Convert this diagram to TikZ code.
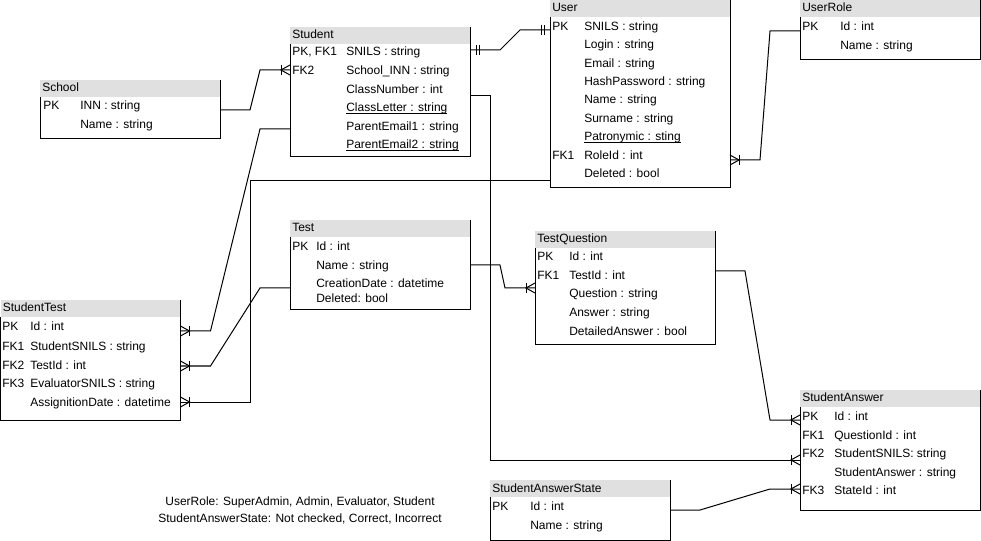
\documentclass[tikz,border=0pt]{standalone}
\usepackage{fontspec}
\setmainfont{Liberation Sans}
\usetikzlibrary{calc}

\definecolor{headgray}{RGB}{224,224,224}

\tikzset{
  fieldtxt/.style={anchor=base west,inner sep=0pt,font=\fontsize{9}{11}\selectfont},
  tablebox/.style={draw=none,inner sep=0pt,outer sep=0pt,anchor=north west,minimum width=135pt},
  border/.style={draw=black,line width=0.75pt},
  conn/.style={draw=black,line width=0.75pt},
  % crow's foot with bar: one or many
  pics/manyend/.style={code={
    \draw[conn] (0,-5) -- (9,0) -- (0,5);
    \draw[conn] (9,-5) -- (9,5);}},
  % double bar: exactly one
  pics/oneend/.style={code={
    \draw[conn] (6,-5) -- (6,5);
    \draw[conn] (9,-5) -- (9,5);}},
}

% column positions of the current table
\newcommand\ercolkey{}
\newcommand\ercolattr{}
\newcommand\setcols[2]{\def\ercolkey{#1}\def\ercolattr{#2}}

% table frame: name, left, top, height, title
\newcommand\ertable[5]{%
  \fill[headgray] (#2,#3) rectangle ++(180,17);
  \node[tablebox,minimum height=#4*0.75pt] (#1) at (#2,#3) {};
  \draw[border] (#1.north east) -- (#1.south east) -- (#1.south west)
    -- ($(#1.north west)+(0,17)$);
  \node[fieldtxt] (#1-title) at (#2+2,#3+12) {#5};}

% one row: node prefix, row centre, key, attribute
\newcommand\erfield[4]{%
  \if\relax\detokenize{#3}\relax\else
    \node[fieldtxt] (#1-key) at (\ercolkey,#2+4) {#3};\fi
  \node[fieldtxt] (#1-attr) at (\ercolattr,#2+4) {#4};}

\newcommand\underfield[1]{\setbox0\hbox{#1}\rlap{\rule[-1.6pt]{\wd0}{0.7pt}}\box0}

\begin{document}
\begin{tikzpicture}[x=0.75pt,y=-0.75pt]
\useasboundingbox (0,0) rectangle (981,541);

% ---------- School
\ertable{school}{40}{80}{59}{School}
\setcols{43}{80}
\erfield{school-inn}{106}{PK}{INN : string}
\erfield{school-name}{125}{}{Name : string}

% ---------- Student
\ertable{student}{290}{27}{130}{Student}
\setcols{292}{346}
\erfield{student-snils}{52}{PK, FK1}{SNILS : string}
\erfield{student-inn}{71}{FK2}{School\_INN : string}
\erfield{student-num}{89.5}{}{ClassNumber : int}
\erfield{student-letter}{108}{}{\underfield{ClassLetter : string}}
\erfield{student-pe1}{126.5}{}{ParentEmail1 : string}
\erfield{student-pe2}{145}{}{\underfield{ParentEmail2 : string}}

% ---------- User
\ertable{user}{550}{0}{188}{User}
\setcols{552}{584}
\erfield{user-snils}{27}{PK}{SNILS : string}
\erfield{user-login}{45}{}{Login : string}
\erfield{user-email}{63.5}{}{Email : string}
\erfield{user-hash}{82}{}{HashPassword : string}
\erfield{user-name}{100}{}{Name : string}
\erfield{user-surname}{118.5}{}{Surname : string}
\erfield{user-patr}{137}{}{\underfield{Patronymic : sting}}
\erfield{user-role}{155.5}{FK1}{RoleId : int}
\erfield{user-del}{174}{}{Deleted : bool}

% ---------- UserRole
\ertable{userrole}{800}{0}{60}{UserRole}
\setcols{802}{840}
\erfield{userrole-id}{27}{PK}{Id : int}
\erfield{userrole-name}{45.5}{}{Name : string}

% ---------- Test
\ertable{test}{290}{220}{90}{Test}
\setcols{292}{316}
\erfield{test-id}{246.5}{PK}{Id : int}
\erfield{test-name}{265.5}{}{Name : string}
\erfield{test-date}{284}{}{CreationDate : datetime}
\erfield{test-del}{299}{}{Deleted: bool}

% ---------- TestQuestion
\ertable{testq}{535}{231}{114}{TestQuestion}
\setcols{537}{569}
\erfield{testq-id}{257}{PK}{Id : int}
\erfield{testq-test}{276}{FK1}{TestId : int}
\erfield{testq-q}{294}{}{Question : string}
\erfield{testq-a}{313}{}{Answer : string}
\erfield{testq-det}{331.5}{}{DetailedAnswer : bool}

% ---------- StudentTest
\ertable{stutest}{0.5}{300}{120}{StudentTest}
\setcols{2}{30}
\erfield{stutest-id}{327}{PK}{Id : int}
\erfield{stutest-stu}{346}{FK1}{StudentSNILS : string}
\erfield{stutest-test}{365}{FK2}{TestId : int}
\erfield{stutest-eval}{383.5}{FK3}{EvaluatorSNILS : string}
\erfield{stutest-date}{402}{}{AssignitionDate : datetime}

% ---------- StudentAnswer
\ertable{stuans}{800}{390}{120}{StudentAnswer}
\setcols{802}{834}
\erfield{stuans-id}{416.5}{PK}{Id : int}
\erfield{stuans-q}{435}{FK1}{QuestionId : int}
\erfield{stuans-stu}{453.5}{FK2}{StudentSNILS: string}
\erfield{stuans-ans}{472}{}{StudentAnswer : string}
\erfield{stuans-state}{490}{FK3}{StateId : int}

% ---------- StudentAnswerState
\ertable{sastate}{490}{480}{60}{StudentAnswerState}
\setcols{492}{530}
\erfield{sastate-id}{506}{PK}{Id : int}
\erfield{sastate-name}{525}{}{Name : string}

% ---------- enumeration values
\node[inner sep=0pt,align=center,font=\fontsize{9}{12.75}\selectfont] (legend) at (300,510)
  {UserRole: SuperAdmin, Admin, Evaluator, Student\\StudentAnswerState: Not checked, Correct, Incorrect};

% ---------- connection points
\coordinate (school-out)   at (school.east |- 0,110);
\coordinate (student-in)   at (student.west |- 0,70);
\coordinate (student-one)  at (student.east |- 0,50);
\coordinate (user-one)     at (user.west |- 0,30);
\coordinate (userrole-out) at (userrole.west |- 0,31);
\coordinate (user-role-in) at (user.east |- 0,160);
\coordinate (user-eval)    at (user.west |- 0,181);
\coordinate (stutest-eval) at (stutest.east |- 0,402);
\coordinate (student-st)   at (student.west |- 0,129);
\coordinate (stutest-stu)  at (stutest.east |- 0,331);
\coordinate (test-st)      at (test.west |- 0,288);
\coordinate (stutest-test) at (stutest.east |- 0,366);
\coordinate (test-out)     at (test.east |- 0,265);
\coordinate (testq-in)     at (testq.west |- 0,288);
\coordinate (student-ans)  at (student.east |- 0,96);
\coordinate (stuans-stu)   at (stuans.west |- 0,460);
\coordinate (testq-out)    at (testq.east |- 0,271);
\coordinate (stuans-q)     at (stuans.west |- 0,420);
\coordinate (sastate-out)  at (sastate.east |- 0,510);
\coordinate (stuans-state) at (stuans.west |- 0,489);

% ---------- relations
\draw[conn] (school-out) -- ++(30,0) -- ($(student-in)+(-30,0)$) -- (student-in);
\pic[xscale=-1] at (student-in) {manyend};

\draw[conn] (student-one) -- ++(30,0) -- ($(user-one)+(-30,0)$) -- (user-one);
\pic at (student-one) {oneend};
\pic[xscale=-1] at (user-one) {oneend};

\draw[conn] (userrole-out) -- ++(-30,0) -- ($(user-role-in)+(30,0)$) -- (user-role-in);
\pic at (user-role-in) {manyend};

\draw[conn] (user-eval) -| ($(stutest-eval)+(70,0)$) -- (stutest-eval);
\pic at (stutest-eval) {manyend};

\draw[conn] (student-st) -- ++(-30,0) -- ($(stutest-stu)+(30,0)$) -- (stutest-stu);
\pic at (stutest-stu) {manyend};

\draw[conn] (test-st) -- ++(-30,0) -- ($(stutest-test)+(30,0)$) -- (stutest-test);
\pic at (stutest-test) {manyend};

\draw[conn] (test-out) -- ++(30,0) -- ($(testq-in)+(-30,0)$) -- (testq-in);
\pic[xscale=-1] at (testq-in) {manyend};

\draw[conn] (student-ans) -- ++(20,0) |- (stuans-stu);
\pic[xscale=-1] at (stuans-stu) {manyend};

\draw[conn] (testq-out) -- ++(30,0) -- ($(stuans-q)+(-30,0)$) -- (stuans-q);
\pic[xscale=-1] at (stuans-q) {manyend};

\draw[conn] (sastate-out) -- ++(30,0) -- ($(stuans-state)+(-30,0)$) -- (stuans-state);
\pic[xscale=-1] at (stuans-state) {manyend};

\end{tikzpicture}
\end{document}
